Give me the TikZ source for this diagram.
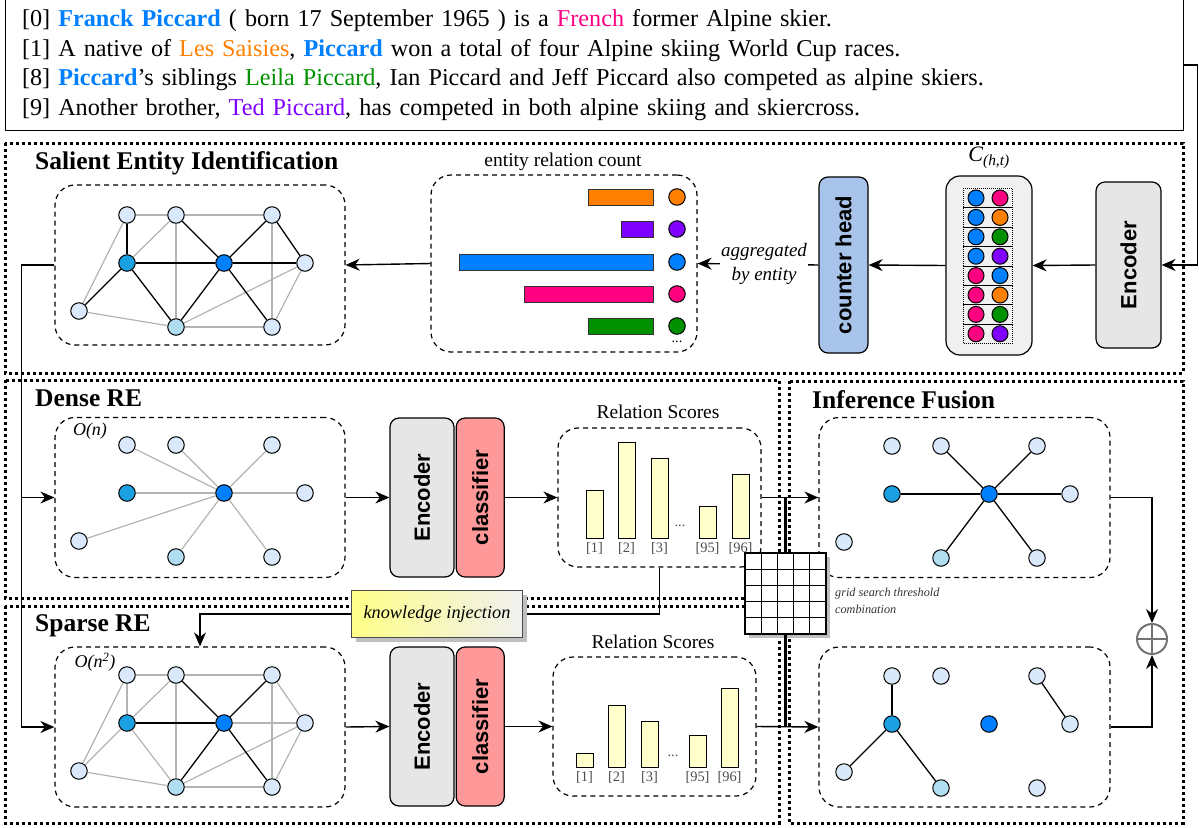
\documentclass[tikz,border=0pt]{standalone}
\usepackage{fontspec}
\usepackage{graphicx}
\setmainfont{Liberation Serif}
\setsansfont{Liberation Sans}
\usetikzlibrary{positioning, arrows.meta, shadows}

\definecolor{cblue}{RGB}{0,127,255}
\definecolor{cpink}{RGB}{255,0,128}
\definecolor{corange}{RGB}{255,128,0}
\definecolor{cgreen}{RGB}{0,145,0}
\definecolor{cpurple}{RGB}{127,0,255}
\definecolor{nlight}{HTML}{DAE8FC}
\definecolor{nmid}{HTML}{1BA1E2}
\definecolor{ncyan}{HTML}{B1DDF0}
\definecolor{encgray}{HTML}{E6E6E6}
\definecolor{clsred}{HTML}{FF9999}
\definecolor{headblue}{HTML}{A9C4EB}
\definecolor{barfill}{HTML}{FFFFCC}
\definecolor{cboxgray}{HTML}{F0F0F0}
\definecolor{edgegray}{HTML}{B3B3B3}
\definecolor{kyellow}{HTML}{FFFF88}

\tikzstyle{frame} = [draw, line width=3pt, dash pattern=on 3pt off 3pt]
\tikzstyle{txtbox} = [draw, line width=1pt, minimum width=1178pt, minimum height=131pt, text width=1144pt, align=left, inner sep=0pt, font=\fontsize{24.2}{29.7}\selectfont]
\tikzstyle{title} = [anchor=west, inner sep=0pt, font=\fontsize{25.5}{30}\selectfont\bfseries]
\tikzstyle{gbox} = [draw, line width=1.2pt, dash pattern=on 5pt off 4pt, rounded corners=20pt, minimum width=290pt, minimum height=160pt]
\tikzstyle{ent} = [circle, draw, line width=1pt, minimum size=16.5pt, inner sep=0pt, fill=nlight]
\tikzstyle{blk} = [draw, line width=1.3pt]
\tikzstyle{gry} = [draw=edgegray, line width=1.2pt]
\tikzstyle{arr} = [draw, line width=1.4pt, -{Stealth[length=14pt, width=12pt]}]
\tikzstyle{line} = [draw, line width=1.4pt]
\tikzstyle{model} = [draw, line width=1.2pt, rounded corners=9pt, fill=encgray, inner sep=0pt, font=\fontsize{22}{24}\selectfont\sffamily\bfseries]
\tikzstyle{lbl} = [inner sep=0pt, font=\fontsize{19.5}{22}\selectfont]
\tikzstyle{cplx} = [inner sep=0pt, font=\fontsize{18}{20}\selectfont\itshape]
\tikzstyle{bar} = [draw, line width=1pt, fill=barfill]
\tikzstyle{idx} = [inner sep=0pt, text=black!70, font=\fontsize{14.4}{16}\selectfont]
\tikzstyle{kbox} = [draw=black!70, line width=1pt, left color=kyellow, right color=white!94!black, minimum width=171pt, minimum height=47pt, font=\fontsize{18.3}{20}\selectfont\itshape, drop shadow={shadow xshift=4pt, shadow yshift=-4pt, fill=black!25, opacity=1}]
\tikzstyle{gridbox} = [draw, line width=1.3pt, fill=white, minimum size=81pt, inner sep=0pt, drop shadow={shadow xshift=4pt, shadow yshift=-4pt, fill=black!25, opacity=1}]

\begin{document}
\begin{tikzpicture}[x=1pt, y=-1pt, node distance=1pt]
	\useasboundingbox (0,0) rectangle (1199,827);

	% Frames
	\draw [frame] (5,143) rectangle (1183,373);
	\draw [frame] (5,380) rectangle (779,598);
	\draw [frame] (5,606) rectangle (779,823);
	\draw [frame] (789,381) rectangle (1183,823);

	% Input document
	\node [txtbox] (TXT) at (594,65) {{[0]} \textcolor{cblue}{\textbf{Franck Piccard}} ( born 17 September 1965 ) is a \textcolor{cpink}{French} former Alpine skier.\\
		{[1]} A native of \textcolor{corange}{Les Saisies}, \textcolor{cblue}{\textbf{Piccard}} won a total of four Alpine skiing World Cup races.\\
		{[8]} \textcolor{cblue}{\textbf{Piccard}}'s siblings \textcolor{cgreen}{Leila Piccard}, Ian Piccard and Jeff Piccard also competed as alpine skiers.\\
		{[9]} Another brother, \textcolor{cpurple}{Ted Piccard}, has competed in both alpine skiing and skiercross.};

	\node [title] (T01) at (35,163) {Salient Entity Identification};
	\node [title] (T02) at (35,398) {Dense RE};
	\node [title] (T03) at (35,626) {Sparse RE};
	\node [title] (T04) at (812,400) {Inference Fusion};

	% Graph boxes
	\node [gbox] (SG) at (200,265) {};
	\node [gbox] (DG) at (200,497.5) {};
	\node [gbox] (PG) at (200,727) {};
	\node [gbox, minimum width=291pt] (IU) at (964.5,497.5) {};
	\node [gbox, minimum width=291pt] (IL) at (964.5,727) {};
	\node [cplx] (ON1) at (90,431) {O(n)};
	\node [cplx] (ON2) at (95,662) {O(n\textsuperscript{2})};

	% Entity graphs
	\foreach \g/\cx/\cy in {S/224/263, D/224/493, P/224/723, U/989/494, L/989/724}
		\foreach \n/\dx/\dy/\fc in {1/-97/-48/nlight, 2/-48/-48/nlight, 3/48/-48/nlight, 4/-97/0/nmid, 5/0/0/cblue, 6/81/0/nlight, 7/-145/48/nlight, 8/-48/64/ncyan, 9/48/64/nlight}
			\node [ent, fill=\fc] (\g\n) at (\cx+\dx,\cy+\dy) {};

	\foreach \a/\b in {1/2, 2/3, 1/7, 4/2, 2/8, 3/9, 6/8, 6/9, 7/8, 8/9}
		\draw [gry] (S\a) -- (S\b);
	\foreach \a/\b in {1/4, 4/5, 5/6, 4/7, 4/8, 2/5, 5/3, 5/8, 5/9, 3/6}
		\draw [blk] (S\a) -- (S\b);
	\foreach \b in {1,2,3,4,6,7,8,9}
		\draw [gry] (D5) -- (D\b);
	\foreach \a/\b in {1/2, 2/3, 1/4, 1/7, 4/2, 4/7, 4/8, 2/8, 3/6, 3/9, 5/6, 6/8, 6/9, 7/8, 8/9}
		\draw [gry] (P\a) -- (P\b);
	\foreach \a/\b in {4/5, 2/5, 5/3, 5/8, 5/9}
		\draw [blk] (P\a) -- (P\b);
	\foreach \a/\b in {4/5, 5/2, 5/3, 5/6, 5/8, 5/9}
		\draw [blk] (U\a) -- (U\b);
	\foreach \a/\b in {1/4, 4/7, 4/8, 3/6}
		\draw [blk] (L\a) -- (L\b);

	% Entity relation count
	\node [gbox, minimum width=266pt, minimum height=177pt] (EC) at (564,263.5) {};
	\node [lbl] (ECL) at (563,162) {entity relation count};
	\foreach \yy/\xl/\cc [count=\i] in {197/588/corange, 229/621/cpurple, 262/459/cblue, 294/524/cpink, 326/588/cgreen} {
		\draw [draw=black!80, line width=1pt, fill=\cc] (\xl,\yy-8) rectangle (653,\yy+8);
		\node [ent, fill=\cc] (EC\i) at (677,\yy) {};
	}
	\node [idx, text=black] (ECD) at (677,342) {...};

	% Counter head and pair encodings
	\node [model, fill=headblue, minimum width=49pt, minimum height=176pt] (CH) at (843.5,265) {\rotatebox{90}{counter head}};
	\node [model, fill=cboxgray, minimum width=86pt, minimum height=179pt, rounded corners=14pt] (CB) at (989,265.5) {};
	\node [inner sep=0pt, font=\fontsize{22}{24}\selectfont] (CHT) at (989,158) {\textit{C}\textsubscript{\textit{(h,t)}}};
	\foreach \r/\ca/\cb in {0/cblue/cpink, 1/cblue/corange, 2/cblue/cgreen, 3/cblue/cpurple, 4/cpink/cblue, 5/cpink/corange, 6/cpink/cgreen, 7/cpink/cpurple} {
		\draw [line width=0.7pt, dash pattern=on 0.8pt off 1.2pt] (963,188.3+\r*19.4) rectangle (1012,207.7+\r*19.4);
		\node [ent, fill=\ca, minimum size=16pt] (C\r a) at (976,198+\r*19.4) {};
		\node [ent, fill=\cb, minimum size=16pt] (C\r b) at (1000,198+\r*19.4) {};
	}
	\node [model, minimum width=65pt, minimum height=166pt] (ENC) at (1128.5,265) {\rotatebox{90}{Encoder}};

	% Dense RE
	\node [model, minimum width=64pt, minimum height=159pt] (DE) at (422,497.5) {\rotatebox{90}{Encoder}};
	\node [model, fill=clsred, minimum width=48pt, minimum height=159pt, right=1pt of DE] (DC) {\rotatebox{90}{classifier}};
	\node [gbox, minimum width=203pt, minimum height=139pt] (DRS) at (659.5,497.5) {};
	\node [lbl] (DRL) at (658,412) {Relation Scores};
	\foreach \xl/\yt/\lb in {586/490/{[1]}, 618/442/{[2]}, 651/458/{[3]}, 699/506/{[95]}, 732/474/{[96]}} {
		\draw [bar] (\xl,\yt) rectangle (\xl+17,538);
		\node [idx] at (\xl+8.5,548) {\lb};
	}
	\node [idx] (DDT) at (680,526) {...};

	% Sparse RE
	\node [model, minimum width=64pt, minimum height=159pt] (PE) at (422,726.5) {\rotatebox{90}{Encoder}};
	\node [model, fill=clsred, minimum width=48pt, minimum height=159pt, right=1pt of PE] (PC) {\rotatebox{90}{classifier}};
	\node [gbox, minimum width=203pt, minimum height=139pt] (PRS) at (654.5,726.5) {};
	\node [lbl] (PRL) at (653,642) {Relation Scores};
	\foreach \xl/\yt/\lb in {576/753/{[1]}, 608/705/{[2]}, 641/721/{[3]}, 689/735/{[95]}, 721/688/{[96]}} {
		\draw [bar] (\xl,\yt) rectangle (\xl+17,767);
		\node [idx] at (\xl+8.5,777) {\lb};
	}
	\node [idx] (PDT) at (673,756) {...};

	% Connectors
	\draw [arr] (TXT.east) -- ++(14,0) |- (ENC.east);
	\draw [arr] (ENC.west) -- (CB.east);
	\draw [arr] (CB.west) -- (CH.east);
	\draw [arr] (CH.west) -- node [pos=0.45, fill=white, inner sep=1pt, align=center, font=\fontsize{19}{24}\selectfont\itshape] (AGG) {aggregated\\by entity} (EC.east);
	\draw [arr] (EC.west) -- (SG.east);
	\draw [arr] (SG.west) -- ++(-33,0) |- (DG.west);
	\draw [arr] (SG.west) -- ++(-33,0) |- (PG.west);
	\draw [arr] (DG.east) -- (DE.west);
	\draw [arr] (DC.east) -- (DRS.west);
	\draw [arr] (DRS.east) -- (IU.west);
	\draw [arr] (PG.east) -- (PE.west);
	\draw [arr] (PC.east) -- (PRS.west);
	\draw [arr] (PRS.east) -- (IL.west);

	% Knowledge injection
	\draw [line] (DRS.south) |- (437,614);
	\node [kbox] (KI) at (437,614) {knowledge injection};
	\draw [arr] (KI.west) -| (PG.north);

	% Threshold grid
	\node [gridbox] (GRD) at (785.5,593.5) {};
	\foreach \k in {1,...,4} {
		\draw [line width=1.3pt] (745+\k*16.2,553) -- (745+\k*16.2,634);
		\draw [line width=1.3pt] (745,553+\k*16.2) -- (826,553+\k*16.2);
	}
	\draw [line width=3pt] (GRD.north) -- (GRD.north |- DRS.east);
	\draw [line width=3pt] (GRD.south) -- (GRD.south |- PRS.east);
	\node [anchor=west, align=left, inner sep=0pt, text=black!80, font=\fontsize{12.2}{17}\selectfont\itshape] (GSL) at (835,601) {grid search threshold\\combination};

	% Fusion
	\node [circle, draw=black!55, line width=2pt, minimum size=30pt, inner sep=0pt] (OP) at (1152,639) {};
	\draw [draw=black!55, line width=2pt] (OP.north) -- (OP.south);
	\draw [draw=black!55, line width=2pt] (OP.west) -- (OP.east);
	\draw [arr] (IU.east) -| (OP.north);
	\draw [arr] (IL.east) -| (OP.south);
\end{tikzpicture}
\end{document}
